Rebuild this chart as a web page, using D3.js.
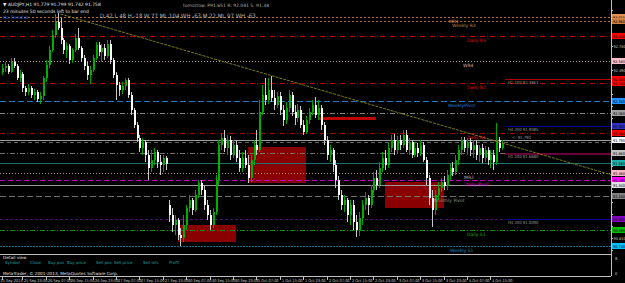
<!DOCTYPE html>
<html>
<head>
<meta charset="utf-8">
<script src="https://cdn.jsdelivr.net/npm/d3@7"></script>
<style>
  body { margin: 0; background: #000; }
  svg { display: block; font-family: "DejaVu Sans", sans-serif; }
  .narrow { font-family: "Liberation Sans Narrow", "DejaVu Sans Condensed", sans-serif; }
</style>
</head>
<body>
<svg id="chart" width="625" height="283"></svg>
<script>
// AUDJPY H1, 25 Sep 2013 16:00 .. 4 Oct 2013 19:00  [open, high, low, close]
const bars = [
  [92.47,92.55,92.44,92.51],[92.51,92.57,92.47,92.53],[92.53,92.55,92.45,92.47],[92.47,92.61,92.46,92.57],
  [92.57,92.61,92.51,92.53],[92.53,92.55,92.39,92.41],[92.41,92.49,92.37,92.45],[92.45,92.47,92.27,92.31],
  [92.31,92.33,92.23,92.27],[92.27,92.35,92.24,92.31],[92.31,92.33,92.21,92.24],[92.24,92.30,92.19,92.27],
  [92.27,92.29,92.17,92.20],[92.20,92.27,92.15,92.23],[92.23,92.43,92.19,92.41],[92.41,92.59,92.37,92.54],
  [92.54,92.73,92.51,92.69],[92.69,92.89,92.67,92.84],[92.84,93.05,92.81,92.97],[92.97,93.06,92.89,92.91],
  [92.91,93.01,92.75,92.79],[92.79,92.81,92.65,92.69],[92.69,92.77,92.61,92.73],[92.73,92.75,92.55,92.59],
  [92.59,92.71,92.56,92.69],[92.69,92.85,92.67,92.81],[92.81,92.91,92.69,92.71],[92.71,92.73,92.57,92.61],
  [92.61,92.64,92.49,92.53],[92.53,92.57,92.39,92.44],[92.44,92.53,92.35,92.49],[92.49,92.64,92.47,92.61],
  [92.61,92.77,92.59,92.74],[92.74,92.77,92.63,92.67],[92.67,92.75,92.57,92.71],[92.71,92.75,92.59,92.63],
  [92.63,92.79,92.61,92.75],[92.75,92.79,92.55,92.59],[92.59,92.61,92.41,92.44],[92.44,92.47,92.19,92.34],
  [92.34,92.37,92.23,92.29],[92.29,92.37,92.25,92.33],[92.33,92.41,92.29,92.39],[92.39,92.41,92.21,92.24],
  [92.24,92.27,92.04,92.09],[92.09,92.11,91.91,91.94],[91.94,91.97,91.77,91.81],[91.81,91.84,91.67,91.71],
  [91.71,91.81,91.64,91.77],[91.77,91.79,91.57,91.64],[91.64,91.69,91.39,91.51],[91.51,91.69,91.47,91.59],
  [91.59,91.71,91.54,91.67],[91.67,91.69,91.51,91.57],[91.57,91.64,91.44,91.54],[91.54,91.64,91.47,91.61],
  [91.61,91.63,91.49,91.55],[91.14,91.19,90.97,91.04],[91.04,91.11,90.87,90.94],[90.94,91.04,90.84,90.99],
  [90.99,91.01,90.79,90.84],[90.84,90.91,90.73,90.81],[90.81,91.04,90.77,90.94],[90.94,91.14,90.89,91.11],
  [91.11,91.24,91.07,91.19],[91.19,91.21,91.04,91.09],[91.09,91.29,91.07,91.24],[91.24,91.39,91.21,91.36],
  [91.36,91.39,91.24,91.29],[91.29,91.34,91.09,91.14],[91.14,91.19,90.99,91.04],[91.04,91.09,90.89,90.94],
  [90.94,91.11,90.91,91.07],[91.07,91.44,91.04,91.39],[91.39,91.79,91.34,91.74],[91.74,91.86,91.69,91.81],
  [91.81,91.89,91.67,91.71],[91.71,91.84,91.64,91.79],[91.79,91.83,91.59,91.64],[91.64,91.79,91.61,91.74],
  [91.74,91.79,91.57,91.61],[91.61,91.69,91.47,91.51],[91.51,91.67,91.47,91.61],[91.61,91.69,91.51,91.54],
  [91.54,91.64,91.36,91.41],[91.41,91.64,91.37,91.59],[91.59,91.79,91.54,91.74],[91.74,91.89,91.64,91.69],
  [91.69,92.19,91.67,92.07],[92.07,92.34,92.04,92.24],[92.24,92.41,92.14,92.19],[92.19,92.41,92.15,92.29],
  [92.29,92.43,92.17,92.21],[92.21,92.29,92.09,92.14],[92.14,92.27,92.11,92.23],[92.23,92.27,92.04,92.09],
  [92.09,92.14,91.93,91.99],[91.99,92.17,91.95,92.11],[92.11,92.29,92.07,92.24],[92.24,92.27,92.03,92.07],
  [92.07,92.14,91.94,92.01],[92.01,92.15,91.97,92.09],[92.09,92.13,91.91,91.94],[91.94,91.99,91.84,91.87],
  [91.87,92.03,91.85,91.99],[91.99,92.11,91.95,92.07],[92.07,92.19,92.04,92.14],[92.14,92.22,92.01,92.04],
  [92.04,92.19,91.99,92.11],[92.11,92.14,91.89,91.94],[91.94,91.97,91.74,91.79],[91.79,91.83,91.59,91.64],
  [91.64,91.74,91.57,91.69],[91.69,91.71,91.47,91.54],[91.54,91.59,91.31,91.39],[91.39,91.43,91.19,91.24],
  [91.24,91.29,91.09,91.14],[91.14,91.24,91.07,91.19],[91.19,91.21,90.97,91.04],[91.04,91.19,90.94,91.14],
  [91.14,91.19,90.89,90.97],[90.97,91.04,90.82,90.89],[90.89,91.07,90.83,91.01],[91.01,91.19,90.94,91.14],
  [91.14,91.27,91.09,91.21],[91.21,91.24,91.04,91.14],[91.14,91.34,91.11,91.29],[91.29,91.47,91.24,91.41],
  [91.41,91.49,91.29,91.34],[91.34,91.57,91.31,91.51],[91.51,91.67,91.47,91.61],[91.61,91.69,91.49,91.54],
  [91.54,91.77,91.51,91.71],[91.71,91.84,91.67,91.79],[91.79,91.85,91.64,91.69],[91.69,91.83,91.66,91.79],
  [91.79,91.84,91.69,91.74],[91.74,91.89,91.71,91.84],[91.84,91.89,91.67,91.69],[91.69,91.81,91.64,91.77],
  [91.77,91.79,91.61,91.64],[91.64,91.77,91.62,91.71],[91.71,91.76,91.62,91.66],[91.66,91.79,91.63,91.74],
  [91.74,91.77,91.57,91.59],[91.59,91.62,91.34,91.41],[91.41,91.44,91.14,91.21],[91.21,91.29,90.92,91.09],
  [91.09,91.29,91.04,91.24],[91.24,91.37,91.19,91.31],[91.31,91.41,91.27,91.37],[91.37,91.43,91.29,91.33],
  [91.33,91.49,91.29,91.44],[91.44,91.55,91.39,91.51],[91.51,91.57,91.43,91.47],[91.47,91.64,91.44,91.59],
  [91.59,91.74,91.54,91.69],[91.69,91.82,91.64,91.79],[91.79,91.82,91.67,91.71],[91.71,91.81,91.64,91.77],
  [91.77,91.81,91.63,91.69],[91.69,91.79,91.61,91.74],[91.74,91.79,91.59,91.64],[91.64,91.74,91.57,91.71],
  [91.71,91.75,91.56,91.61],[91.61,91.73,91.57,91.69],[91.69,91.72,91.54,91.59],[91.59,91.69,91.51,91.64],
  [91.64,91.69,91.49,91.57],[91.57,91.96,91.54,91.79],[91.79,91.82,91.67,91.71],[91.71,91.79,91.69,91.76]
];

const timeLabels = ["25 Sep 2013","25 Sep 23:00","26 Sep 07:00","26 Sep 15:00","26 Sep 23:00","27 Sep 07:00",
  "27 Sep 15:00","27 Sep 23:00","30 Sep 07:00","30 Sep 15:00","30 Sep 23:00","1 Oct 07:00","1 Oct 15:00",
  "1 Oct 23:00","2 Oct 07:00","2 Oct 15:00","2 Oct 23:00","3 Oct 07:00","3 Oct 15:00","3 Oct 23:00",
  "4 Oct 07:00","4 Oct 15:00"];
const timeLabelBars = [0,7,15,23,31,39,47,55,63,71,79,87,95,103,111,119,127,135,143,151,159,167];

const priceTicks = [93.09,92.97,92.85,92.73,92.61,92.49,92.37,92.25,92.13,92.01,91.89,91.77,91.65,
  91.53,91.41,91.29,91.17,91.05,90.93,90.81,90.69];

// pivot / level lines drawn across the whole chart
const levelNames  = ["MR1","Weekly R3","Daily R3","WR4","Daily R2","WeeklyPivot","L92.06","Daily R1","Bid",
  "L91.77","L91.66","L91.56","MR2","Daily Pivot","L91.34","Monthly Pivot","L91.00","Daily S1","Weekly S1"];
const levelPrices = [93.015,92.98,92.83,92.58,92.36,92.18,92.06,91.86,91.79,
  91.77,91.66,91.56,91.46,91.39,91.34,91.23,91.00,90.89,90.73];

// moving-average markers on the right side
const maNames  = ["H1 100 92.3951","H4 200 91.9085","H1 200 91.6680","H4 200 91.0090"];
const maPrices = [92.40,91.93,91.66,91.00];

// supply / demand zones [fromBar, toBar, top, bottom]
const zones = [[60,80,90.94,90.77],[84,104,91.72,91.36],[131,151,91.37,91.11]];
const redSegment = [108,128,92.005];
const trendPoints = [[20,93.05],[171,91.76]];

// ---- styles ----
const levelStyle = {
  "MR1":          {c:"#b8743c", d:"2,2", w:1, box:"#e09050", lx:449, tc:"#d09060"},
  "Weekly R3":    {c:"#a87038", d:"2,2", w:1, box:"#d08040", lx:452, tc:"#c08040"},
  "Daily R3":     {c:"#c00000", d:"5,2,1,2", w:1, box:"#ff0000", lx:467, tc:"#e01010"},
  "WR4":          {c:"#b89898", d:"1,2", w:1, box:"#ffc0cb", lx:463, tc:"#d0b0b0"},
  "Daily R2":     {c:"#b00000", d:"5,2,1,2", w:1, box:"#ff0000", lx:467, tc:"#e01010"},
  "WeeklyPivot":  {c:"#1e78c8", d:"6,3", w:1, box:"#1e90ff", lx:448, tc:"#2080d0"},
  "L92.06":       {c:"#808080", d:"5,2,1,2", w:1, box:"#a0a0a0"},
  "Daily R1":     {c:"#a00000", d:"5,2,1,2", w:1, box:"#ff0000", lx:467, tc:"#e01010"},
  "Bid":          {c:"#a0a0a0", d:null, w:1, box:"#ffffff"},
  "L91.77":       {c:"#606060", d:"4,3", w:1},
  "L91.66":       {c:"#707070", d:"5,2,1,2", w:1, box:"#c0c0c0"},
  "L91.56":       {c:"#1f6f6f", d:null, w:1, box:"#20b2aa"},
  "MR2":          {c:"#b08888", d:"1,2", w:1, box:"#ffb6c1", lx:464, tc:"#d0a0a0"},
  "Daily Pivot":  {c:"#c000c0", d:"5,3", w:1.5, box:"#ff00ff", lx:465, tc:"#e000e0"},
  "L91.34":       {c:"#9a9a9a", d:null, w:1, box:"#e0e0e0"},
  "Monthly Pivot":{c:"#707070", d:"6,3", w:1, box:"#808080", lx:434, tc:"#909090"},
  "L91.00":       {c:"#50106a", d:"3,2", w:1.5, box:"#9400d3"},
  "Daily S1":     {c:"#109010", d:"5,2,1,2", w:1, box:"#00c000", lx:467, tc:"#20b020"},
  "Weekly S1":    {c:"#107090", d:"2,1", w:1.5, box:"#00bfff", lx:450, tc:"#1890c0"}
};
const maColors = ["#b00000","#000099","#6a0035","#000099"];
const maWidths = [1,1.5,2,1.5];
const maBoxes  = ["#ff0000","#3030c0","#c0c0c0","#8000c0"];

const W = 625, H = 283;
const plotRight = 611, mainBottom = 254, subBottom = 276;
const svg = d3.select("#chart");
svg.append("rect").attr("width", W).attr("height", H).attr("fill", "#000");

const x = d3.scaleLinear().domain([0, bars.length - 1]).range([2, 502.2]);
const y = d3.scaleLinear().domain([93.19, 90.66]).range([0, 253]);

const main = svg.append("g").attr("shape-rendering", "crispEdges");

// zones
main.selectAll(".zone").data(zones).enter().append("rect")
  .attr("x", d => x(d[0]))
  .attr("y", d => y(d[2]))
  .attr("width", d => x(d[1]) - x(d[0]))
  .attr("height", d => y(d[3]) - y(d[2]))
  .attr("fill", "#8a0000");

// level lines
levelNames.forEach((n, i) => {
  const s = levelStyle[n];
  const yy = Math.round(y(levelPrices[i])) + 0.5;
  main.append("line").attr("x1", 0).attr("x2", plotRight).attr("y1", yy).attr("y2", yy)
    .attr("stroke", s.c).attr("stroke-width", s.w)
    .attr("stroke-dasharray", s.d);
  if (s.lx) {
    svg.append("text").attr("x", s.lx).attr("y", yy + 5)
      .attr("fill", s.tc).attr("font-size", 4.5).text(n);
  }
});

// red segment
main.append("line")
  .attr("x1", x(redSegment[0])).attr("x2", x(redSegment[1]))
  .attr("y1", y(redSegment[2])).attr("y2", y(redSegment[2]))
  .attr("stroke", "#c00000").attr("stroke-width", 2.5);

// MA lines on the right
maNames.forEach((n, i) => {
  const yy = Math.round(y(maPrices[i])) + 0.5;
  main.append("line").attr("x1", 505).attr("x2", plotRight).attr("y1", yy).attr("y2", yy)
    .attr("stroke", maColors[i]).attr("stroke-width", maWidths[i]);
  svg.append("text").attr("class", "narrow").attr("x", 508).attr("y", yy + 4.5)
    .attr("fill", "#9a9a9a").attr("font-size", 4.2).text(n);
});
svg.append("text").attr("class", "narrow").attr("x", 512).attr("y", y(91.79) - 1)
  .attr("fill", "#9a9a9a").attr("font-size", 4.2).text("<- 91.790");

// trend line (ray to the right)
{
  const [a, b] = trendPoints;
  const slope = (y(b[1]) - y(a[1])) / (x(b[0]) - x(a[0]));
  svg.append("line")
    .attr("x1", x(a[0])).attr("y1", y(a[1]))
    .attr("x2", plotRight).attr("y2", y(a[1]) + slope * (plotRight - x(a[0])))
    .attr("stroke", "#7a7a1c").attr("stroke-width", 1).attr("stroke-dasharray", "3,1");
}

// candles
const candles = main.selectAll(".bar").data(bars).enter().append("g");
candles.append("line")
  .attr("x1", (d, i) => Math.round(x(i)) + 0.5)
  .attr("x2", (d, i) => Math.round(x(i)) + 0.5)
  .attr("y1", d => y(d[1])).attr("y2", d => y(d[2]))
  .attr("stroke", d => d[3] >= d[0] ? "#00a000" : "#c8c8c8");
candles.append("rect")
  .attr("x", (d, i) => Math.round(x(i)) - 0.5)
  .attr("y", d => y(Math.max(d[0], d[3])))
  .attr("width", 2)
  .attr("height", d => Math.max(1, Math.abs(y(d[0]) - y(d[3]))))
  .attr("fill", d => d[3] >= d[0] ? "#00b000" : "#ffffff");

// frame lines
main.append("line").attr("x1", plotRight + 0.5).attr("x2", plotRight + 0.5).attr("y1", 0).attr("y2", subBottom)
  .attr("stroke", "#c0c0c0");
main.append("line").attr("x1", 0).attr("x2", plotRight).attr("y1", mainBottom + 0.5).attr("y2", mainBottom + 0.5)
  .attr("stroke", "#c0c0c0");
main.append("line").attr("x1", 0).attr("x2", plotRight).attr("y1", subBottom + 0.5).attr("y2", subBottom + 0.5)
  .attr("stroke", "#c0c0c0");

// price axis: coloured level boxes, plain ticks only where free
const axisG = svg.append("g").attr("class", "narrow");
const boxYs = [];
levelNames.forEach((n, i) => { if (levelStyle[n].box) boxYs.push(Math.round(y(levelPrices[i]))); });
maPrices.forEach(p => boxYs.push(Math.round(y(p))));

priceTicks.forEach(p => {
  const yy = Math.round(y(p)) + 0.5;
  axisG.append("line").attr("x1", plotRight).attr("x2", plotRight + 2).attr("y1", yy).attr("y2", yy)
    .attr("stroke", "#c0c0c0");
  if (boxYs.some(b => Math.abs(b - yy) < 7)) return;
  axisG.append("text").attr("x", 613.5).attr("y", yy + 1.8).attr("fill", "#c8c8c8")
    .attr("font-size", 3.8).text(p.toFixed(3));
});
function priceBox(p, col) {
  const yy = Math.round(y(p));
  axisG.append("rect").attr("x", 612).attr("y", yy - 3).attr("width", 13).attr("height", 6)
    .attr("fill", col);
  axisG.append("text").attr("x", 613).attr("y", yy + 1.6).attr("fill", "#000")
    .attr("font-size", 3.8).text(p.toFixed(3));
}
levelNames.forEach((n, i) => { if (levelStyle[n].box) priceBox(levelPrices[i], levelStyle[n].box); });
maPrices.forEach((p, i) => priceBox(p, maBoxes[i]));

// sub-window scale
axisG.append("text").attr("x", 615).attr("y", 260).attr("fill", "#c8c8c8").attr("font-size", 4).text("8");
axisG.append("text").attr("x", 615).attr("y", 275).attr("fill", "#c8c8c8").attr("font-size", 4).text("0");

// time axis
const timeG = svg.append("g").attr("class", "narrow");
timeLabelBars.forEach((b, k) => {
  const xx = Math.round(x(b)) + 0.5;
  timeG.append("line").attr("x1", xx).attr("x2", xx).attr("y1", subBottom).attr("y2", subBottom + 4)
    .attr("stroke", "#c0c0c0");
  timeG.append("text").attr("x", k === 0 ? 0.5 : xx + 1.5).attr("y", 281.5).attr("fill", "#c8c8c8")
    .attr("font-size", 3.9).text(timeLabels[k]);
});

// header texts
svg.append("text").attr("x", 3).attr("y", 6).attr("fill", "#e0e0e0").attr("font-size", 4.5)
  .text("\u25BC AUDJPY,H1  91.779 91.799 91.742 91.758");
svg.append("text").attr("x", 3).attr("y", 12.5).attr("fill", "#e0e0e0").attr("font-size", 4.5)
  .text("23 minutes 50 seconds left to bar end");
svg.append("text").attr("x", 3).attr("y", 18.5).attr("fill", "#2060ff").attr("font-size", 4.5)
  .text("No Trend at");
svg.append("text").attr("x", 183).attr("y", 7).attr("fill", "#b0b0b0").attr("font-size", 4.5)
  .text("tomorrow:  P91.651  R: 92.041  S: 91.38");
svg.append("text").attr("class", "narrow").attr("x", 100).attr("y", 17.5).attr("fill", "#b0b0b0")
  .attr("font-size", 6).text("D 42 L 48 H -18    W 77 ML 104 WH -63 M 22 ML 97 WH -63");

// detail view sub-window
svg.append("text").attr("x", 3).attr("y", 259).attr("fill", "#e0e0e0").attr("font-size", 4.2).text("Detail view");
const detailCols = ["Symbol","Close","Buy pos","Buy price","Sell pos","Sell price","Sell lots","Profit"];
const detailX = [5,30,48,67,96,114,143,169];
detailCols.forEach((t, i) => {
  svg.append("text").attr("x", detailX[i]).attr("y", 264).attr("fill", "#20a0a0").attr("font-size", 4).text(t);
});
svg.append("text").attr("x", 3).attr("y", 274.5).attr("fill", "#e0e0e0").attr("font-size", 4.2)
  .text("MetaTrader, \u00A9 2001-2013, MetaQuotes Software Corp.");
</script>
</body>
</html>
